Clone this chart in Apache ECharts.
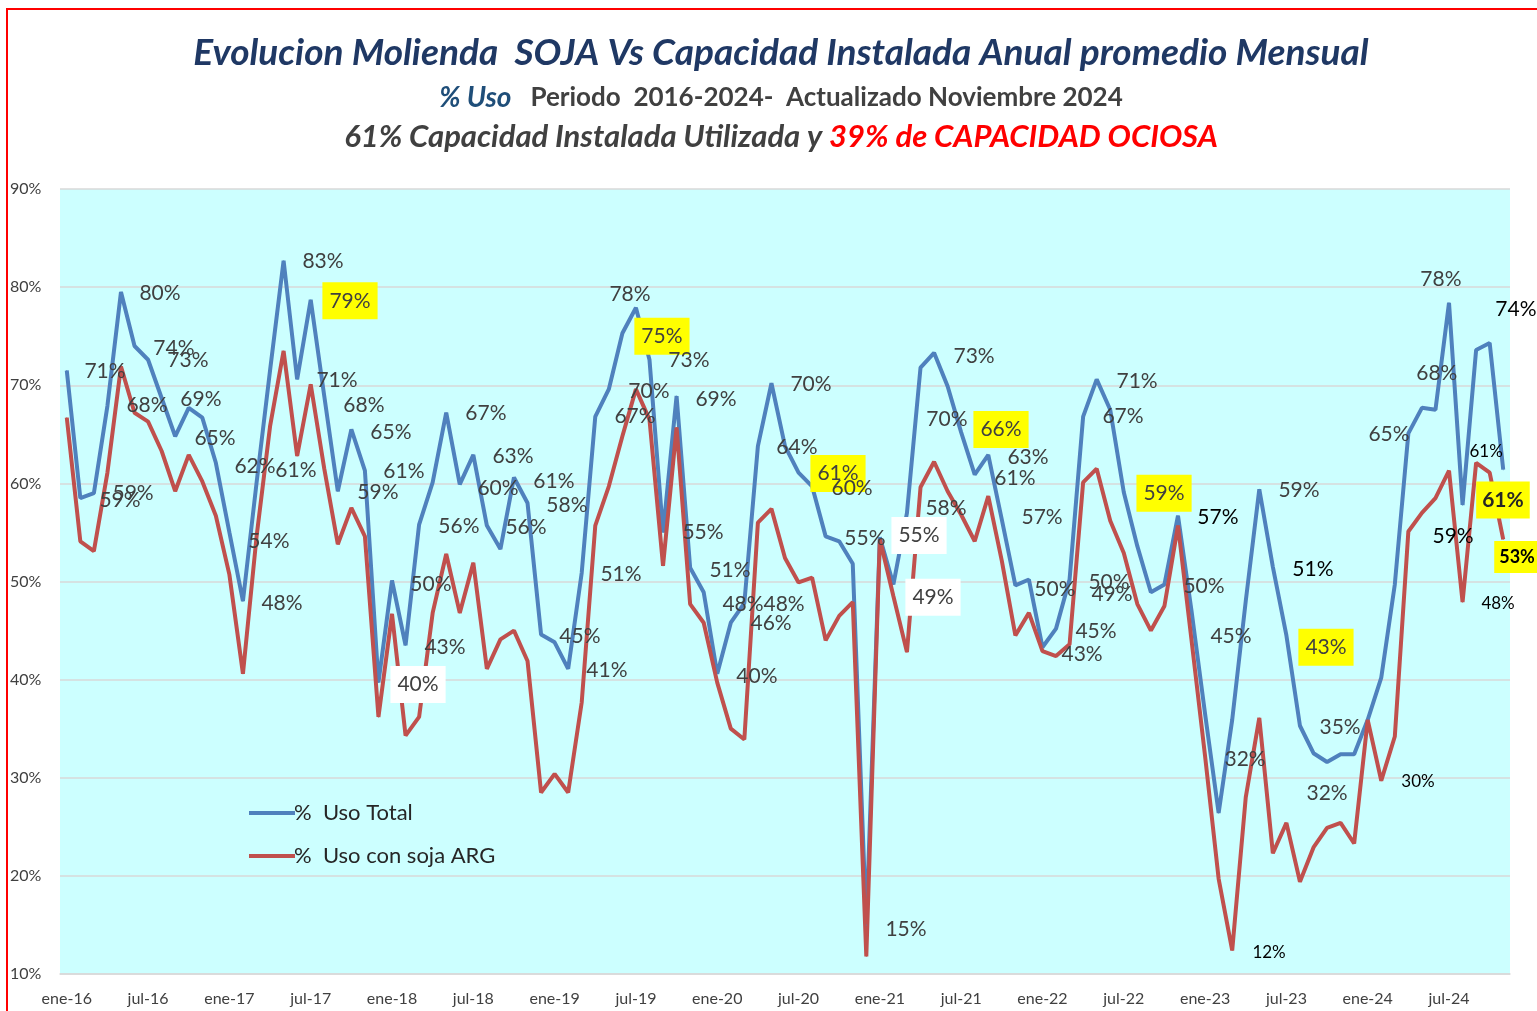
<!DOCTYPE html>
<html>
<head>
<meta charset="utf-8">
<script src="https://cdn.jsdelivr.net/npm/echarts@6/dist/echarts.min.js"></script>
<style>
  html, body { margin: 0; padding: 0; background: #fff; }
  #app { width: 1537px; height: 1011px; }
</style>
</head>
<body>
<div id="app"></div>
<script>
// month names + years -> categories ene-16 ... nov-24
const monthNames = ["ene", "feb", "mar", "abr", "may", "jun", "jul", "ago", "sep", "oct", "nov", "dic"];
const years = ["16", "17", "18", "19", "20", "21", "22", "23", "24"];
const lastMonth = 11; // nov-24

const categories = [];
years.forEach((y, yi) => {
  monthNames.forEach((m, mi) => {
    if (yi === years.length - 1 && mi >= lastMonth) return;
    categories.push(m + "-" + y);
  });
});

// % Uso Total (blue)
const usoTotal = [
  71.5, 58.5, 59.0, 67.9, 79.5, 74.0, 72.6, 68.7, 64.8, 67.7, 66.7, 62.1,
  55.0, 48.0, 60.0, 71.5, 82.7, 70.6, 78.7, 68.9, 59.2, 65.5, 61.3, 39.7,
  50.1, 43.5, 55.8, 60.1, 67.2, 59.9, 62.9, 55.7, 53.3, 60.6, 58.0, 44.6,
  43.8, 41.1, 50.9, 66.8, 69.6, 75.3, 77.9, 72.6, 55.0, 68.9, 51.4, 48.9,
  40.6, 45.8, 47.8, 63.8, 70.2, 63.8, 61.1, 59.7, 54.6, 54.1, 51.8, 15.0,
  54.5, 49.7, 57.0, 71.8, 73.3, 69.9, 65.2, 60.9, 62.9, 56.3, 49.6, 50.2,
  43.3, 45.2, 50.2, 66.8, 70.6, 67.5, 59.1, 53.6, 48.9, 49.7, 56.7, 47.0,
  36.5, 26.4, 35.9, 48.0, 59.4, 51.5, 44.5, 35.3, 32.5, 31.6, 32.4, 32.4,
  35.9, 40.2, 49.7, 65.1, 67.7, 67.5, 78.4, 57.8, 73.6, 74.3, 61.4
];

// % Uso con soja ARG (red)
const usoSojaArg = [
  66.7, 54.1, 53.1, 61.1, 71.9, 67.2, 66.3, 63.3, 59.2, 62.9, 60.2, 56.7,
  50.7, 40.6, 54.5, 65.8, 73.5, 62.8, 70.1, 61.5, 53.8, 57.5, 54.6, 36.2,
  46.7, 34.3, 36.2, 46.8, 52.8, 46.8, 51.9, 41.1, 44.1, 45.0, 41.9, 28.5,
  30.4, 28.5, 37.7, 55.7, 59.7, 64.8, 69.6, 66.5, 51.6, 65.7, 47.7, 45.8,
  39.7, 35.0, 33.9, 56.0, 57.4, 52.4, 49.9, 50.4, 44.0, 46.5, 47.9, 11.8,
  54.3, 48.5, 42.8, 59.6, 62.2, 59.2, 56.8, 54.1, 58.7, 52.1, 44.5, 46.8,
  42.9, 42.4, 43.6, 60.1, 61.5, 56.2, 52.9, 47.7, 45.0, 47.5, 55.7, 44.0,
  32.2, 19.7, 12.4, 28.0, 36.1, 22.3, 25.4, 19.4, 22.9, 24.9, 25.4, 23.3,
  35.9, 29.7, 34.2, 55.1, 57.0, 58.5, 61.3, 47.9, 62.1, 61.1, 54.3
];

const yTicks = [10, 20, 30, 40, 50, 60, 70, 80, 90];

// data labels as placed in the original: [month position, value position, text, kind]
const notes = [
  [2.82, 71.4, "71%", "g"], [6.88, 79.4, "80%", "g"], [7.91, 73.8, "74%", "g"],
  [8.94, 72.6, "73%", "g"], [5.92, 68.0, "68%", "g"], [9.90, 68.6, "69%", "g"],
  [10.94, 64.6, "65%", "g"], [3.93, 58.3, "59%", "g"], [4.89, 59.0, "59%", "g"],
  [13.89, 61.7, "62%", "g"], [14.92, 54.1, "54%", "g"], [15.88, 47.8, "48%", "g"],
  [18.91, 82.6, "83%", "g"], [20.90, 78.6, "79%", "y"], [19.94, 70.5, "71%", "g"],
  [16.91, 61.3, "61%", "g"], [21.93, 68.0, "68%", "g"], [23.92, 65.2, "65%", "g"],
  [22.96, 59.1, "59%", "g"], [24.88, 61.2, "61%", "g"], [28.94, 55.6, "56%", "g"],
  [26.87, 49.7, "50%", "g"], [27.91, 43.3, "43%", "g"], [25.92, 39.5, "40%", "w"],
  [30.93, 67.1, "67%", "g"], [32.93, 62.8, "63%", "g"], [31.82, 59.5, "60%", "g"],
  [33.89, 55.5, "56%", "g"], [35.95, 60.2, "61%", "g"], [36.91, 57.8, "58%", "g"],
  [37.87, 44.4, "45%", "g"], [39.86, 41.0, "41%", "g"], [40.90, 50.7, "51%", "g"],
  [41.56, 79.3, "78%", "g"], [43.92, 75.0, "75%", "y"], [45.91, 72.5, "73%", "g"],
  [42.96, 69.4, "70%", "g"], [41.93, 66.8, "67%", "g"], [47.91, 68.6, "69%", "g"],
  [46.95, 55.0, "55%", "g"], [48.94, 51.1, "51%", "g"], [49.90, 47.7, "48%", "g"],
  [52.93, 47.7, "48%", "g"], [51.97, 45.7, "46%", "g"], [50.93, 40.3, "40%", "g"],
  [54.92, 70.1, "70%", "g"], [53.88, 63.7, "64%", "g"], [56.91, 61.0, "61%", "y"],
  [57.95, 59.5, "60%", "g"], [58.90, 54.4, "55%", "g"], [61.93, 14.6, "15%", "g"],
  [62.89, 54.7, "55%", "w"], [63.92, 48.4, "49%", "w"], [66.95, 73.0, "73%", "g"],
  [64.95, 66.5, "70%", "g"], [68.94, 65.5, "66%", "y"], [64.88, 57.5, "58%", "g"],
  [70.93, 62.7, "63%", "g"], [69.97, 60.5, "61%", "g"], [71.97, 56.5, "57%", "g"],
  [72.92, 49.2, "50%", "g"], [75.95, 44.9, "45%", "g"], [74.92, 42.6, "43%", "g"],
  [76.91, 49.9, "50%", "g"], [77.13, 48.7, "49%", "g"], [78.98, 70.4, "71%", "g"],
  [77.94, 66.8, "67%", "g"], [80.97, 59.0, "59%", "y"], [84.95, 56.5, "57%", "k"],
  [83.92, 49.5, "50%", "g"], [85.91, 44.4, "45%", "g"], [86.95, 31.9, "32%", "g"],
  [88.72, 12.2, "12%", "s"], [90.93, 59.3, "59%", "g"], [91.96, 51.2, "51%", "k"],
  [92.92, 43.3, "43%", "y"], [93.96, 35.1, "35%", "g"], [93.00, 28.4, "32%", "g"],
  [99.71, 29.6, "30%", "s"], [97.57, 65.0, "65%", "g"], [101.1, 71.25, "68%", "g"],
  [101.4, 80.8, "78%", "g"], [106.94, 77.7, "74%", "k"], [104.74, 63.2, "61%", "s"],
  [105.98, 58.3, "61%", "yb"], [102.3, 54.6, "59%", "k"], [107.02, 52.5, "53%", "yb2"],
  [105.62, 47.8, "48%", "s"]
];

const FONT = "Lato";
const grid = { left: 60, right: 27, top: 189, bottom: 37 };
const plotW = 1537 - grid.left - grid.right;
const plotH = 1011 - grid.top - grid.bottom;
const yMin = 10, yMax = 90;
const bandW = plotW / categories.length;
const unitH = plotH / (yMax - yMin);

const labelKinds = {
  g: { color: "#404040", fontSize: 21 },
  k: { color: "#000000", fontSize: 21 },
  s: { color: "#000000", fontSize: 17 },
  w: { color: "#404040", fontSize: 21, backgroundColor: "#ffffff", padding: [8, 7] },
  y: { color: "#404040", fontSize: 21, backgroundColor: "#ffff00", padding: [8, 7] },
  yb: { color: "#262626", fontSize: 21, fontWeight: "bold", backgroundColor: "#ffff00", padding: [8, 6] },
  yb2: { color: "#000000", fontSize: 18, fontWeight: "bold", backgroundColor: "#ffff00", padding: [7, 5] }
};

// attach each note to the nearest free point (red first, then blue), offset through the scales
const seriesVals = [usoSojaArg, usoTotal];
const seriesLabels = [{}, {}];
notes.forEach(([m, v, text, kind]) => {
  const order = categories.map((_, i) => i).sort((a, b) => Math.abs(a - m) - Math.abs(b - m));
  for (const i of order) {
    let placed = false;
    for (let s = 0; s < 2; s++) {
      if (seriesLabels[s][i]) continue;
      seriesLabels[s][i] = {
        show: true,
        formatter: text,
        position: "inside",
        offset: [(m - i) * bandW, -(v - seriesVals[s][i]) * unitH],
        fontFamily: FONT,
        ...labelKinds[kind]
      };
      placed = true;
      break;
    }
    if (placed) break;
  }
});

const buildData = (vals, s) =>
  vals.map((v, i) => (seriesLabels[s][i] ? { value: v, label: seriesLabels[s][i] } : v));

const chart = echarts.init(document.getElementById("app"));
chart.setOption({
  animation: false,
  backgroundColor: "#ffffff",
  title: [
    {
      text: "Evolucion Molienda  SOJA Vs Capacidad Instalada Anual promedio Mensual",
      left: 776, top: 30, textAlign: "center",
      textStyle: { fontFamily: FONT, fontWeight: "bold", fontStyle: "italic", fontSize: 37, color: "#1F3864" }
    },
    {
      text: "{a|% Uso}{b|   Periodo  2016-2024-  Actualizado Noviembre 2024}",
      left: 776, top: 79, textAlign: "center",
      textStyle: {
        rich: {
          a: { fontFamily: FONT, fontStyle: "italic", fontSize: 28, color: "#1F4E79" },
          b: { fontFamily: FONT, fontSize: 26, color: "#404040" }
        }
      }
    },
    {
      text: "{a|61% Capacidad Instalada Utilizada y }{b|39% de CAPACIDAD OCIOSA}",
      left: 776, top: 116, textAlign: "center",
      textStyle: {
        rich: {
          a: { fontFamily: FONT, fontStyle: "italic", fontWeight: "bold", fontSize: 31, color: "#404040" },
          b: { fontFamily: FONT, fontStyle: "italic", fontWeight: "bold", fontSize: 31, color: "#FF0000" }
        }
      }
    }
  ],
  graphic: [
    {
      type: "rect", z: 100, silent: true,
      shape: { x: 7, y: 9, width: 1700, height: 1200 },
      style: { fill: null, stroke: "#ff0000", lineWidth: 2 }
    }
  ],
  legend: {
    orient: "vertical",
    left: 244, top: 797,
    itemWidth: 46, itemHeight: 4, itemGap: 21,
    icon: "rect",
    textStyle: { fontFamily: FONT, fontSize: 22, color: "#262626", padding: [0, 0, 0, -6] },
    data: ["%  Uso Total", "%  Uso con soja ARG"]
  },
  grid: { ...grid, show: true, backgroundColor: "#CCFFFF", borderWidth: 0, containLabel: false },
  xAxis: {
    type: "category",
    data: categories,
    boundaryGap: true,
    axisLine: { show: true, lineStyle: { color: "#d9d9d9", width: 1.5 } },
    axisTick: { show: false },
    axisLabel: { interval: 5, fontFamily: FONT, fontSize: 16, color: "#404040", margin: 17 }
  },
  yAxis: {
    type: "value",
    min: yTicks[0], max: yTicks[yTicks.length - 1], interval: 10,
    axisLine: { show: false },
    axisTick: { show: false },
    splitLine: { lineStyle: { color: "#d9d9d9", width: 1.5 } },
    axisLabel: { formatter: "{value}%", fontFamily: FONT, fontSize: 16, color: "#404040", align: "left", margin: 50 }
  },
  series: [
    {
      name: "%  Uso Total",
      type: "line",
      data: buildData(usoTotal, 1),
      symbol: "circle", symbolSize: 1, showSymbol: true, showAllSymbol: true,
      itemStyle: { color: "#4F81BD" },
      lineStyle: { color: "#4F81BD", width: 4 },
      emphasis: { disabled: true }, silent: true
    },
    {
      name: "%  Uso con soja ARG",
      type: "line",
      data: buildData(usoSojaArg, 0),
      symbol: "circle", symbolSize: 1, showSymbol: true, showAllSymbol: true,
      itemStyle: { color: "#C0504D" },
      lineStyle: { color: "#C0504D", width: 4 },
      emphasis: { disabled: true }, silent: true
    }
  ]
});
</script>
</body>
</html>
